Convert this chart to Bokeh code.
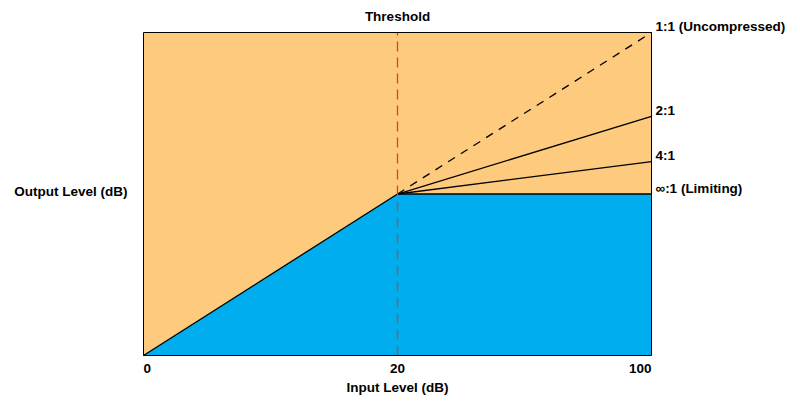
from bokeh.plotting import figure
from bokeh.models import ColumnDataSource, Range1d
from bokeh.core.properties import value
from bokeh.embed import file_html
from bokeh.resources import INLINE

# ---- data ----
tick_pos = [0, 50, 100]              # plotted positions of the input ticks
tick_labels = ["0", "20", "100"]     # shown tick labels (dB)
threshold_in = 50
threshold_out = 50
ratio_labels = ["1:1 (Uncompressed)", "2:1", "4:1", "\u221e:1 (Limiting)"]
ratio_end_out = [100, 74, 60, 50]    # output level at max input for each ratio
x_max = 100
y_max = 100

FONT = value("Liberation Sans")
FS = "13.5px"
ORANGE = "#FDCA7E"
BLUE = "#00ADEE"
RED = "#D8412D"

p = figure(width=800, height=404, output_backend="svg", toolbar_location=None,
           x_range=Range1d(-28.15, 129.33), y_range=Range1d(-15.17, 109.91),
           min_border=0, min_border_left=0, min_border_right=0,
           min_border_top=0, min_border_bottom=0)
p.axis.visible = False
p.grid.visible = False
p.outline_line_color = None
p.background_fill_color = "white"
p.border_fill_color = "white"

# orange background
p.quad(left=[0], right=[x_max], bottom=[0], top=[y_max],
       fill_color=ORANGE, line_color=None)
# blue region under the limiting curve
p.patch(x=[0, threshold_in, x_max, x_max], y=[0, threshold_out, threshold_out, 0],
        fill_color=BLUE, line_color=None)

# compression lines
for lab, end in zip(ratio_labels, ratio_end_out):
    dash = "8 7" if end == y_max else "solid"
    p.line(x=[threshold_in, x_max], y=[threshold_out, end], line_color="black",
           line_width=1.3, line_dash=dash)
p.line(x=[0, threshold_in], y=[0, threshold_out], line_color="black", line_width=1.3)

# threshold line
p.line(x=[threshold_in, threshold_in], y=[0, y_max], line_color=RED,
       line_width=1.3, line_dash="10 6")

# frame
p.quad(left=[0], right=[x_max], bottom=[0], top=[y_max],
       fill_color=None, line_color="black", line_width=1)

# ratio labels
src = ColumnDataSource(dict(x=[x_max] * len(ratio_labels), y=ratio_end_out,
                            t=ratio_labels))
p.text(x="x", y="y", text="t", source=src, x_offset=4, y_offset=-6,
       text_align="left", text_baseline="middle", text_font=FONT,
       text_font_style="bold", text_font_size=FS, text_color="black")

# tick labels
aligns = ["left", "center", "right"]
tsrc = ColumnDataSource(dict(x=tick_pos, y=[0] * 3, t=tick_labels, a=aligns))
p.text(x="x", y="y", text="t", source=tsrc, y_offset=13, text_align="a",
       text_baseline="middle", text_font=FONT, text_font_style="bold",
       text_font_size=FS, text_color="black")

# axis titles
p.text(x=[threshold_in], y=[0], text=["Input Level (dB)"], y_offset=32,
       text_align="center", text_baseline="middle", text_font=FONT,
       text_font_style="bold", text_font_size=FS, text_color="black")
p.text(x=[0], y=[threshold_out], text=["Output Level (dB)"], x_offset=-16,
       y_offset=-3, text_align="right", text_baseline="middle", text_font=FONT,
       text_font_style="bold", text_font_size=FS, text_color="black")
p.text(x=[threshold_in], y=[y_max], text=["Threshold"], y_offset=-16,
       text_align="center", text_baseline="middle", text_font=FONT,
       text_font_style="bold", text_font_size=FS, text_color="black")

open("out.html", "w").write(file_html(p, INLINE))
